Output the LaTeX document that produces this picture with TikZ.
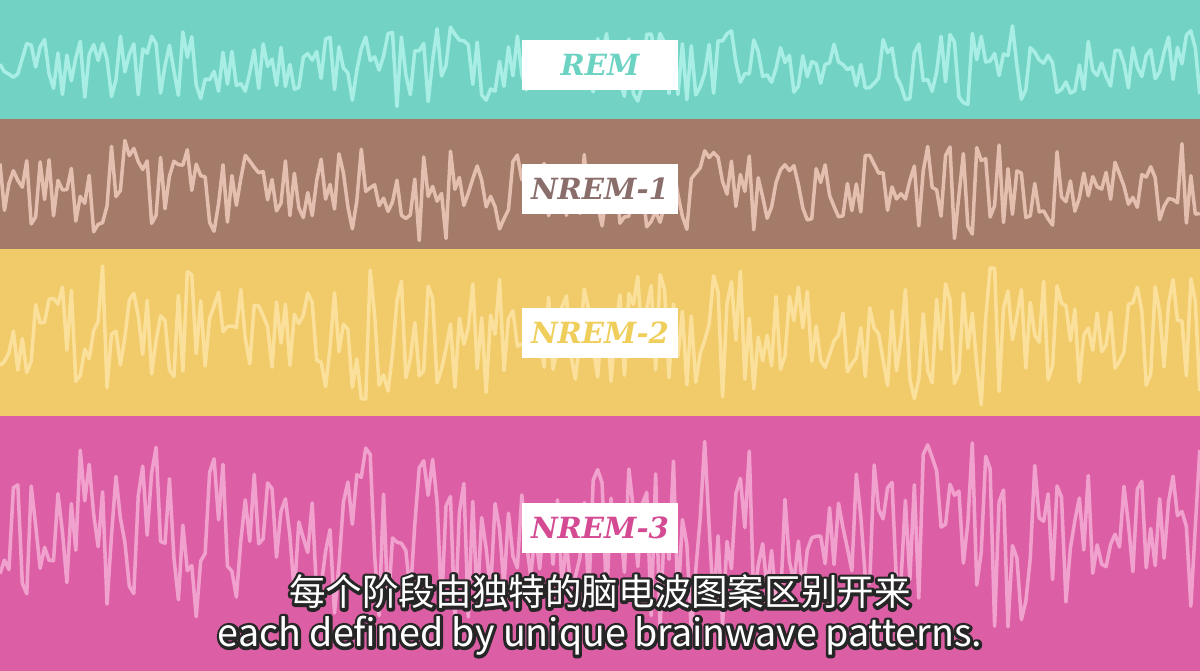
\documentclass[tikz,border=0pt]{standalone}
\usepackage{fontspec}
\newfontfamily\cjk{Noto Sans CJK SC}
\newfontfamily\slab{DejaVu Serif}
\usetikzlibrary{positioning}
\definecolor{remband}{HTML}{72D3C5}
\definecolor{remwave}{HTML}{AEF2E8}
\definecolor{remtext}{HTML}{6CD3C3}
\definecolor{oneband}{HTML}{A47A68}
\definecolor{onewave}{HTML}{EBC6B6}
\definecolor{onetext}{HTML}{8A6E6C}
\definecolor{twoband}{HTML}{F1CB69}
\definecolor{twowave}{HTML}{FCE3A0}
\definecolor{twotext}{HTML}{F0CE5C}
\definecolor{threeband}{HTML}{DC5FA5}
\definecolor{threewave}{HTML}{F4A9D2}
\definecolor{threetext}{HTML}{D44A93}
% white text with a dark rim: stroked copy first, plain fill on top
\newcommand\outlined[1]{\rlap{\special{pdf:literal direct 1 Tr 1.7 w 1 j 0.15 0.15 0.15 RG}#1\special{pdf:literal direct 0 Tr}}#1}

\begin{document}
\begin{tikzpicture}[
  stage/.style={fill=white, minimum width=1.56cm, minimum height=0.5cm, inner sep=0pt,
    font=\slab\bfseries\itshape\fontsize{8.3}{10}\selectfont},
  wave/.style={line width=1pt, line join=round, opacity=0.9},
  subtitle/.style={text=white, inner sep=0pt}]
\useasboundingbox (0,0) rectangle (12,6.71);
% bands
\fill[remband] (0,5.52) rectangle (12,6.71);
\fill[oneband] (0,4.22) rectangle (12,5.52);
\fill[twoband] (0,2.55) rectangle (12,4.22);
\fill[threeband] (0,0) rectangle (12,2.55);
% brainwaves
\pgfmathsetseed{11}
\foreach \yc/\amp/\col in {6.06/0.42/remwave,4.82/0.52/onewave,3.36/0.72/twowave,1.36/0.98/threewave}
  \draw[wave,\col] plot[variable=\t,domain=0:12,samples=270] (\t,{\yc+\amp*rand*(0.5+0.5*abs(sin(\t*65)))});
% stage labels
\node[stage,text=remtext] (rem) at (6,6.06) {REM};
\node[stage,text=onetext] (nrem1) at (6,4.82) {NREM-1};
\node[stage,text=twotext] (nrem2) at (6,3.38) {NREM-2};
\node[stage,text=threetext] (nrem3) at (6,1.43) {NREM-3};
% subtitles
\node[subtitle,font=\cjk\fontsize{10.4}{12}\selectfont] (zh) at (6,0.79) {\outlined{每个阶段由独特的脑电波图案区别开来}};
\node[subtitle,font=\cjk\fontsize{10.7}{12}\selectfont] (en) at (6,0.35) {\outlined{each defined by unique brainwave patterns.}};
\end{tikzpicture}
\end{document}
